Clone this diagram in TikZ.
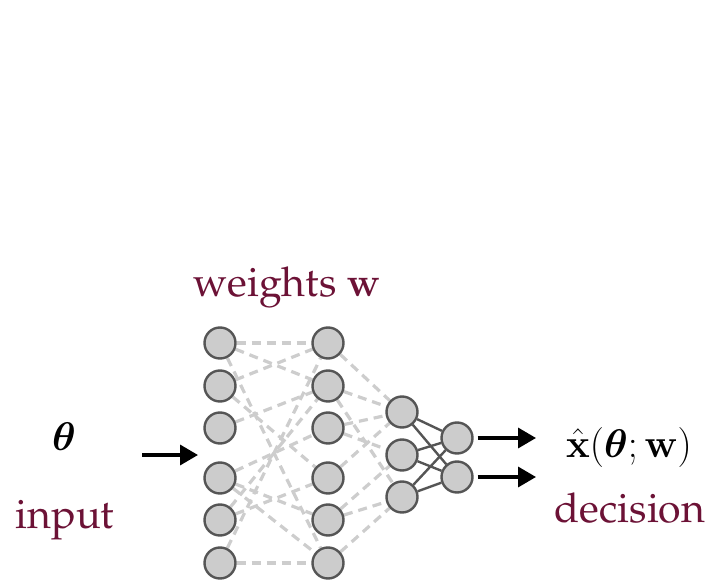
\RequirePackage{fix-cm}
\documentclass[tikz,border=0pt]{standalone}
\usepackage[T1]{fontenc}
\renewcommand{\rmdefault}{ppl}
\usepackage{amsmath,bm}
\usetikzlibrary{arrows.meta,backgrounds}
\definecolor{maroon}{RGB}{108,18,54}
\definecolor{nodefill}{RGB}{204,204,204}
\definecolor{nodeedge}{RGB}{85,85,85}
\definecolor{dashgray}{RGB}{205,205,205}
\begin{document}
\begin{tikzpicture}[x=1pt,y=-1pt,
  neuron/.style={circle,draw=nodeedge,fill=nodefill,line width=2.4pt,minimum size=31pt,inner sep=0pt},
  weak/.style={draw=dashgray,line width=3.2pt,dash pattern=on 9pt off 6pt},
  strong/.style={draw=nodeedge,line width=2.4pt},
  flow/.style={-{Triangle[length=18pt,width=20pt]},line width=3.5pt,black},
  lbl/.style={font=\fontsize{41}{49}\selectfont,text=maroon,inner sep=0pt,anchor=base},
  mth/.style={font=\fontsize{40}{48}\selectfont,inner sep=0pt,anchor=base}
]
\useasboundingbox (0,0) rectangle (715,585);

% layer 1 and 2
\foreach \i/\y in {1/343,2/386,3/428,4/478,5/520,6/563}{
  \node[neuron] (a\i) at (220,\y) {};
  \node[neuron] (b\i) at (328,\y) {};
}
% layer 3
\node[neuron] (c1) at (402,412) {};
\node[neuron] (c2) at (402,455) {};
\node[neuron] (c3) at (402,497) {};
% layer 4
\node[neuron] (d1) at (457,438) {};
\node[neuron] (d2) at (457,477) {};

\begin{scope}[on background layer]
  \foreach \p/\q in {1/1,1/2,2/1,1/6,2/4,3/2,5/2,4/3,4/5,5/4,6/1,4/6,6/6}{
    \draw[weak] (a\p) -- (b\q);
  }
  \foreach \p/\q in {1/1,2/1,3/1,4/1,3/2,2/3,5/2,5/3,6/3}{
    \draw[weak] (b\p) -- (c\q);
  }
  \foreach \p in {1,2,3}{
    \foreach \q in {1,2}{
      \draw[strong] (c\p) -- (d\q);
    }
  }
\end{scope}

% arrows
\coordinate (inS) at (142,455);
\coordinate (inE) at (198,455);
\draw[flow] (inS) -- (inE);
\coordinate (o1) at (536,438);
\coordinate (o2) at (536,477);
\draw[flow] ([xshift=4pt]d1.east) -- (o1);
\draw[flow] ([xshift=4pt]d2.east) -- (o2);

% labels
\node[mth] (theta) at (64,450) {$\boldsymbol{\theta}$};
\node[lbl] (input) at (65,528) {input};
\node[lbl] (weights) at (287,297) {weights $\mathbf{w}$};
\node[mth] (xhat) at (629,457) {$\hat{\mathbf{x}}(\boldsymbol{\theta};\mathbf{w})$};
\node[lbl] (decision) at (630,522) {decision};
\end{tikzpicture}
\end{document}
